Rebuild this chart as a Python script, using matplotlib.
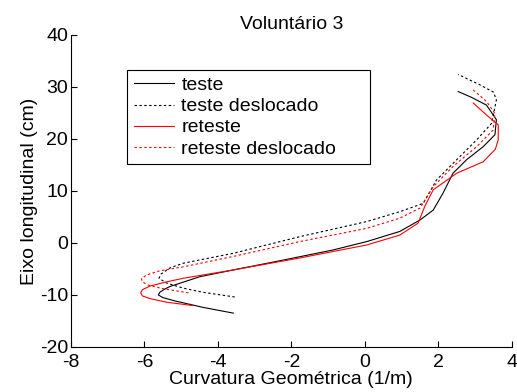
import matplotlib
matplotlib.use("Agg")
import matplotlib.pyplot as plt

plt.rcParams['font.family'] = ['Liberation Sans', 'DejaVu Sans']
plt.rcParams['axes.unicode_minus'] = False

# teste (solid black)
teste_x = [-3.58, -4.40, -5.20, -5.50, -5.62, -5.58, -5.45, -5.31, -4.49, -3.58, -2.22, -0.86,
           0.05, 0.95, 1.50, 1.86, 2.13, 2.40, 2.77, 3.22, 3.54, 3.58, 3.31, 2.90, 2.54]
teste_y = [-13.5, -12.4, -11.1, -10.5, -10.0, -9.5, -8.9, -8.4, -6.5, -5.2, -3.3, -1.35,
           0.25, 2.2, 4.4, 6.3, 9.6, 13.4, 16.0, 18.5, 20.8, 23.7, 26.5, 28.0, 29.1]

# teste deslocado (dotted black)
tdesl_x = [-3.54, -4.40, -4.94, -5.40, -5.60, -5.55, -5.30, -4.94, -3.58, -1.77, 0.05, 0.95,
           1.59, 1.95, 2.50, 3.04, 3.45, 3.58, 3.50, 3.13, 2.54]
tdesl_y = [-10.4, -9.5, -8.7, -7.7, -6.8, -6.0, -4.8, -3.9, -2.0, 1.2, 4.1, 6.0,
           7.6, 12.1, 16.0, 19.8, 23.0, 27.5, 29.0, 30.4, 32.4]

# reteste (solid red)
ret_x = [-4.67, -5.40, -5.85, -6.05, -6.10, -6.05, -5.85, -5.40, -4.94, -3.58, -1.77, 0.05,
         0.95, 1.45, 1.63, 1.86, 2.50, 3.22, 3.55, 3.63, 3.63, 3.31, 2.95]
ret_y = [-12.05, -11.4, -10.7, -10.2, -9.6, -9.0, -8.3, -7.5, -6.8, -5.2, -2.9, -0.4,
         1.5, 3.8, 7.0, 10.2, 13.4, 15.6, 18.0, 19.8, 22.7, 24.6, 26.9]

# reteste deslocado (dotted red)
rdesl_x = [-4.80, -5.50, -5.90, -6.05, -6.08, -5.95, -5.60, -4.94, -3.58, -1.77, 0.05, 0.95,
           1.50, 1.86, 2.40, 3.04, 3.49, 3.54, 3.31, 2.95]
rdesl_y = [-9.6, -8.8, -8.1, -7.5, -6.9, -6.2, -5.4, -4.6, -2.6, 0.25, 2.8, 4.75,
           6.7, 10.8, 14.7, 18.5, 21.7, 24.9, 27.2, 29.4]

fig = plt.figure(figsize=(5.17, 3.92), dpi=100)
ax = fig.add_axes([0.137, 0.115, 0.853, 0.796])

dot = (0, (2.2, 2.2))
ax.plot(teste_x, teste_y, color='black', lw=0.8, label='teste')
ax.plot(tdesl_x, tdesl_y, color='black', lw=0.8, ls=dot, label='teste deslocado')
ax.plot(ret_x, ret_y, color='red', lw=0.8, label='reteste')
ax.plot(rdesl_x, rdesl_y, color='red', lw=0.8, ls=dot, label='reteste deslocado')

ax.set_xlim(-8, 4)
ax.set_ylim(-20, 40)
ax.set_xticks(range(-8, 5, 2))
ax.set_yticks(range(-20, 41, 10))
ax.spines['top'].set_visible(False)
ax.spines['right'].set_visible(False)
ax.tick_params(direction='in', length=4, labelsize=14)
ax.tick_params(axis='x', pad=5)
ax.tick_params(axis='y', pad=2)
ax.set_xlabel('Curvatura Geométrica (1/m)', fontsize=14, labelpad=0)
ax.set_ylabel('Eixo longitudinal (cm)', fontsize=14, labelpad=1)
ax.set_title('Voluntário 3', fontsize=14, pad=4)

leg = ax.legend(loc='upper left', bbox_to_anchor=(0.127, 0.888, 0.551, 0.0),
                mode='expand', fontsize=14,
                frameon=True, fancybox=False, edgecolor='black', framealpha=1,
                handlelength=2.05, handletextpad=0.4, borderpad=0.35, labelspacing=0.18,
                borderaxespad=0)
leg.get_frame().set_linewidth(0.8)

fig.savefig('out.png', dpi=100)
